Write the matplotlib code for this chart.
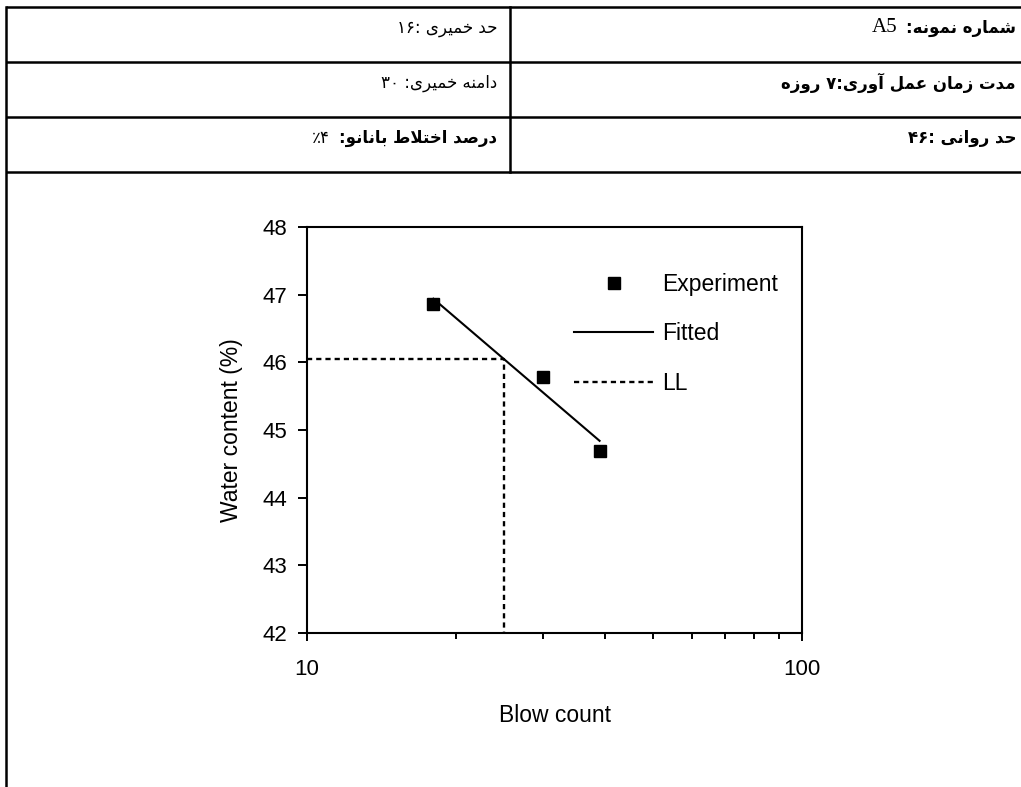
import re
import matplotlib
matplotlib.use("Agg")
import matplotlib.pyplot as plt
from matplotlib.ticker import LogLocator, NullFormatter

# Liquid limit test, sample A5
blow_count = [18, 30, 39]
water_content = [46.86, 45.78, 44.69]
fit_blows = [18, 39]
fit_water = [46.94, 44.84]
ll_blows = 25
ll_water = 46.05

y_ticks = [42, 43, 44, 45, 46, 47, 48]
x_ticks = [10, 100]
x_tick_labels = ['10', '100']

# header table cells (logical order)
right_cells = ['شماره نمونه:', 'مدت زمان عمل آوری:۷ روزه', 'حد روانی :۴۶']
left_cells = ['حد خمیری :۱۶', 'دامنه خمیری: ۳۰', 'درصد اختلاط بانانو:']
sample_id = 'A5'
nano_pct = '۴٪'

plt.rcParams['font.family'] = ['Liberation Sans', 'DejaVu Sans']

# presentation forms: isolated, final, initial, medial
FORMS = {
    'ا': ('\uFE8D', '\uFE8E', None, None),
    'آ': ('\uFE81', '\uFE82', None, None),
    'ب': ('\uFE8F', '\uFE90', '\uFE91', '\uFE92'),
    'ت': ('\uFE95', '\uFE96', '\uFE97', '\uFE98'),
    'ح': ('\uFEA1', '\uFEA2', '\uFEA3', '\uFEA4'),
    'خ': ('\uFEA5', '\uFEA6', '\uFEA7', '\uFEA8'),
    'د': ('\uFEA9', '\uFEAA', None, None),
    'ر': ('\uFEAD', '\uFEAE', None, None),
    'ز': ('\uFEAF', '\uFEB0', None, None),
    'ش': ('\uFEB5', '\uFEB6', '\uFEB7', '\uFEB8'),
    'ص': ('\uFEB9', '\uFEBA', '\uFEBB', '\uFEBC'),
    'ط': ('\uFEC1', '\uFEC2', '\uFEC3', '\uFEC4'),
    'ع': ('\uFEC9', '\uFECA', '\uFECB', '\uFECC'),
    'ل': ('\uFEDD', '\uFEDE', '\uFEDF', '\uFEE0'),
    'م': ('\uFEE1', '\uFEE2', '\uFEE3', '\uFEE4'),
    'ن': ('\uFEE5', '\uFEE6', '\uFEE7', '\uFEE8'),
    'ه': ('\uFEE9', '\uFEEA', '\uFEEB', '\uFEEC'),
    'و': ('\uFEED', '\uFEEE', None, None),
    'ی': ('\uFEEF', '\uFEF0', '\uFEF3', '\uFEF4'),
}
LAM_ALEF = {'ا': ('\uFEFB', '\uFEFC'), 'آ': ('\uFEF5', '\uFEF6')}
LTR_RUN = r'[0-9A-Za-z\u06F0-\u06F9]+'


def joins_next(c):
    return c in FORMS and FORMS[c][2] is not None


def shape(text):
    out = []
    i = 0
    while i < len(text):
        c = text[i]
        if c not in FORMS:
            out.append(c)
            i += 1
            continue
        prev = text[i - 1] if i > 0 else ''
        nxt = text[i + 1] if i + 1 < len(text) else ''
        j_prev = joins_next(prev)
        if c == 'ل' and nxt in LAM_ALEF:
            out.append(LAM_ALEF[nxt][1 if j_prev else 0])
            i += 2
            continue
        j_next = joins_next(c) and nxt in FORMS
        iso, fin, ini, med = FORMS[c]
        if j_prev and j_next:
            out.append(med)
        elif j_prev:
            out.append(fin)
        elif j_next:
            out.append(ini)
        else:
            out.append(iso)
        i += 1
    return ''.join(out)


def rtl(text):
    shaped = shape(text)
    runs = re.findall(LTR_RUN + '|[^0-9A-Za-z\u06F0-\u06F9]+', shaped)
    return ''.join(r if re.fullmatch(LTR_RUN, r) else r[::-1] for r in reversed(runs))


W, H = 1021, 787
fig = plt.figure(figsize=(W / 100, H / 100), dpi=100)

# page layer in pixel units for the header table
page = fig.add_axes([0, 0, 1, 1], zorder=0)
page.set_xlim(0, W)
page.set_ylim(H, 0)
page.axis('off')

row_lines = [7, 62, 117, 172]
left_edge, mid_x = 6, 510
for y in row_lines:
    page.plot([left_edge, W], [y, y], color='black', lw=1.8, solid_capstyle='butt')
page.plot([left_edge, left_edge], [row_lines[0], H], color='black', lw=1.8)
page.plot([mid_x, mid_x], [row_lines[0], row_lines[-1]], color='black', lw=1.8)

arabic_font = ['DejaVu Sans']
row_text_y = [28, 83, 138]
txt_size = 12
right_texts = []
for k, y in enumerate(row_text_y):
    t = page.text(1016, y, rtl(right_cells[k]), ha='right', va='center',
                  family=arabic_font, fontsize=txt_size, fontweight='bold')
    right_texts.append(t)
    wt = 'bold' if k == 2 else 'normal'
    t2 = page.text(497, y, rtl(left_cells[k]), ha='right', va='center',
                   family=arabic_font, fontsize=txt_size, fontweight=wt)
    if k == 2:
        nano_text = t2

fig.canvas.draw()
renderer = fig.canvas.get_renderer()
inv = page.transData.inverted()

bb = right_texts[0].get_window_extent(renderer)
x0 = inv.transform((bb.x0, 0))[0]
page.text(x0 - 9, row_text_y[0], sample_id, ha='right', va='center',
          family=['Liberation Serif'], fontsize=15)

bb = nano_text.get_window_extent(renderer)
x0 = inv.transform((bb.x0, 0))[0]
page.text(x0 - 9, row_text_y[2], rtl(nano_pct), ha='right', va='center',
          family=arabic_font, fontsize=txt_size)

# liquid limit chart
ax = fig.add_axes([307 / W, 1 - 633 / H, 495 / W, 406 / H], zorder=1)
ax.set_xscale('log')
ax.set_xlim(10, 100)
ax.set_ylim(42, 48)

ax.plot(blow_count, water_content, 's', color='black', ms=8.5, label='Experiment')
ax.plot(fit_blows, fit_water, '-', color='black', lw=1.5, label='Fitted')
ax.plot([10, ll_blows, ll_blows], [ll_water, ll_water, 42], color='black',
        lw=1.7, ls=(0, (2.2, 1.7)), label='LL')

ax.set_xticks(x_ticks, labels=x_tick_labels)
ax.xaxis.set_minor_locator(LogLocator(base=10, subs=range(2, 10)))
ax.xaxis.set_minor_formatter(NullFormatter())
ax.set_yticks(y_ticks, labels=[str(v) for v in y_ticks])

for s in ax.spines.values():
    s.set_linewidth(1.5)
ax.tick_params(axis='both', which='major', direction='out', width=1.4,
               labelsize=16)
ax.tick_params(axis='x', which='major', length=6, pad=13)
ax.tick_params(axis='y', which='major', length=6.5, pad=8)
ax.tick_params(axis='x', which='minor', direction='out', length=4.5, width=1.4)

ax.set_xlabel('Blow count', fontsize=16.5, labelpad=17)
ax.set_ylabel('Water content (%)', fontsize=16.5, labelpad=14)

ax.legend(loc='upper left', bbox_to_anchor=(574 / W, 1 - 273 / H),
          bbox_transform=fig.transFigure, frameon=False, fontsize=16.5,
          borderpad=0, borderaxespad=0, handlelength=3.45,
          handletextpad=0.4, labelspacing=1.15)

fig.savefig('out.png', dpi=100)
